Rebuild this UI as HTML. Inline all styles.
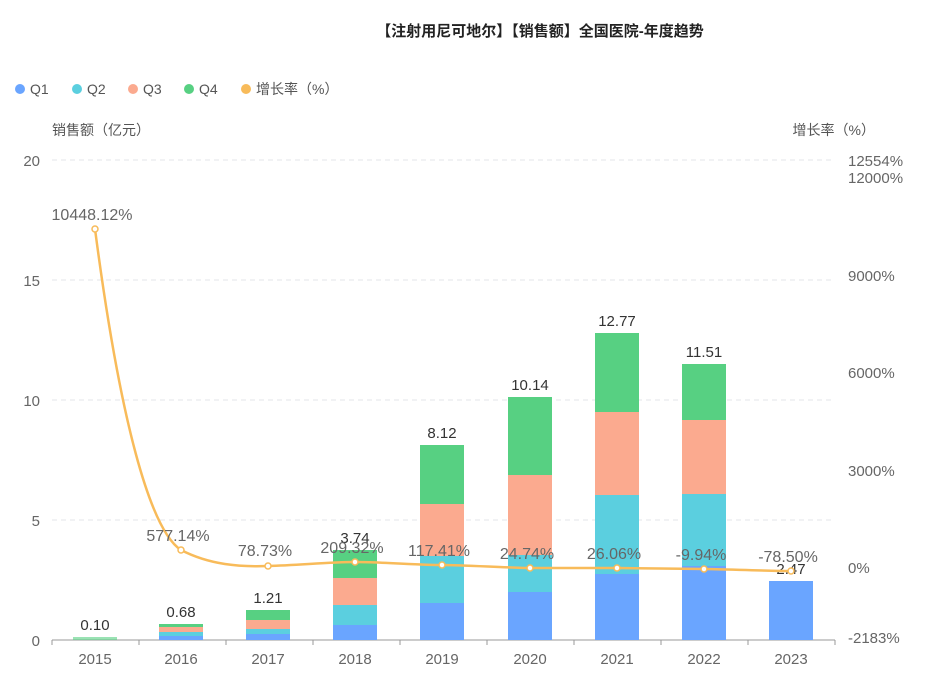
<!DOCTYPE html>
<html><head><meta charset="utf-8"><style>
body{margin:0;background:#fff;}
svg{display:block;font-family:"Liberation Sans","Noto Sans CJK SC",sans-serif;}
</style></head><body>
<svg width="941" height="676" viewBox="0 0 941 676">
<text x="540" y="36" text-anchor="middle" font-size="15" font-weight="bold" fill="#222">【注射用尼可地尔】【销售额】全国医院-年度趋势</text>
<g font-size="14" fill="#555">
<circle cx="20" cy="89" r="5" fill="#6aa5ff"/><text x="30" y="94">Q1</text>
<circle cx="77" cy="89" r="5" fill="#5bcfdf"/><text x="87" y="94">Q2</text>
<circle cx="133" cy="89" r="5" fill="#fbaa8f"/><text x="143" y="94">Q3</text>
<circle cx="189" cy="89" r="5" fill="#57d082"/><text x="199" y="94">Q4</text>
<circle cx="246" cy="89" r="5" fill="#f8bb5a"/><text x="256" y="94">增长率（%）</text>
<text x="52" y="135">销售额（亿元）</text>
<text x="875" y="135" text-anchor="end">增长率（%）</text>
</g>
<g stroke="#e3e6ea" stroke-dasharray="5,4">
<line x1="52" y1="160" x2="835" y2="160"/><line x1="52" y1="280" x2="835" y2="280"/>
<line x1="52" y1="400" x2="835" y2="400"/><line x1="52" y1="520" x2="835" y2="520"/>
</g>
<line x1="52" y1="640" x2="835" y2="640" stroke="#999"/>
<g stroke="#999">
<line x1="52" y1="640" x2="52" y2="645"/><line x1="139" y1="640" x2="139" y2="645"/><line x1="226" y1="640" x2="226" y2="645"/><line x1="313" y1="640" x2="313" y2="645"/><line x1="400" y1="640" x2="400" y2="645"/><line x1="487" y1="640" x2="487" y2="645"/><line x1="574" y1="640" x2="574" y2="645"/><line x1="661" y1="640" x2="661" y2="645"/><line x1="748" y1="640" x2="748" y2="645"/><line x1="835" y1="640" x2="835" y2="645"/>
</g>
<g font-size="15" fill="#666" text-anchor="end">
<text x="40" y="166">20</text><text x="40" y="286">15</text><text x="40" y="406">10</text><text x="40" y="526">5</text><text x="40" y="646">0</text>
</g>
<g font-size="15" fill="#666">
<text x="848" y="166">12554%</text><text x="848" y="183">12000%</text><text x="848" y="281">9000%</text><text x="848" y="378">6000%</text><text x="848" y="476">3000%</text><text x="848" y="573">0%</text><text x="848" y="643">-2183%</text>
</g>
<g font-size="15" fill="#666" text-anchor="middle">
<text x="95" y="664">2015</text><text x="181" y="664">2016</text><text x="268" y="664">2017</text><text x="355" y="664">2018</text><text x="442" y="664">2019</text><text x="530" y="664">2020</text><text x="617" y="664">2021</text><text x="704" y="664">2022</text><text x="791" y="664">2023</text>
</g>
<!-- bars -->
<g>
<rect x="73" y="637" width="44" height="3" fill="#57d082" opacity="0.6"/>
<rect x="159" y="636" width="44" height="4" fill="#6aa5ff"/><rect x="159" y="632" width="44" height="4" fill="#5bcfdf"/><rect x="159" y="627" width="44" height="5" fill="#fbaa8f"/><rect x="159" y="624" width="44" height="3" fill="#57d082"/>
<rect x="246" y="634" width="44" height="6" fill="#6aa5ff"/><rect x="246" y="629" width="44" height="5" fill="#5bcfdf"/><rect x="246" y="620" width="44" height="9" fill="#fbaa8f"/><rect x="246" y="610" width="44" height="10" fill="#57d082"/>
<rect x="333" y="625" width="44" height="15" fill="#6aa5ff"/><rect x="333" y="605" width="44" height="20" fill="#5bcfdf"/><rect x="333" y="578" width="44" height="27" fill="#fbaa8f"/><rect x="333" y="550" width="44" height="28" fill="#57d082"/>
<rect x="420" y="603" width="44" height="37" fill="#6aa5ff"/><rect x="420" y="556" width="44" height="47" fill="#5bcfdf"/><rect x="420" y="504" width="44" height="52" fill="#fbaa8f"/><rect x="420" y="445" width="44" height="59" fill="#57d082"/>
<rect x="508" y="592" width="44" height="48" fill="#6aa5ff"/><rect x="508" y="555" width="44" height="37" fill="#5bcfdf"/><rect x="508" y="475" width="44" height="80" fill="#fbaa8f"/><rect x="508" y="397" width="44" height="78" fill="#57d082"/>
<rect x="595" y="574" width="44" height="66" fill="#6aa5ff"/><rect x="595" y="495" width="44" height="79" fill="#5bcfdf"/><rect x="595" y="412" width="44" height="83" fill="#fbaa8f"/><rect x="595" y="333" width="44" height="79" fill="#57d082"/>
<rect x="682" y="566" width="44" height="74" fill="#6aa5ff"/><rect x="682" y="494" width="44" height="72" fill="#5bcfdf"/><rect x="682" y="420" width="44" height="74" fill="#fbaa8f"/><rect x="682" y="364" width="44" height="56" fill="#57d082"/>
<rect x="769" y="581" width="44" height="59" fill="#6aa5ff"/>
</g>
<g font-size="15" fill="#333" text-anchor="middle">
<text x="95" y="630">0.10</text><text x="181" y="617">0.68</text><text x="268" y="603">1.21</text><text x="355" y="543">3.74</text><text x="442" y="438">8.12</text><text x="530" y="390">10.14</text><text x="617" y="326">12.77</text><text x="704" y="357">11.51</text><text x="791" y="574">2.47</text>
</g>
<path d="M95,229 C120,420 150,530 181,550 C210,565 240,567 268,566 C300,565 330,562 355,562 S420,565 442,565 S510,568 530,568 S600,568 617,568 S690,569 704,569 S770,571 791,571" fill="none" stroke="#f8bb5a" stroke-width="2.5"/>
<g fill="#fff" stroke="#f8bb5a" stroke-width="1.5">
<circle cx="95" cy="229" r="3"/><circle cx="181" cy="550" r="3"/><circle cx="268" cy="566" r="3"/><circle cx="355" cy="562" r="3"/><circle cx="442" cy="565" r="3"/><circle cx="530" cy="568" r="3"/><circle cx="617" cy="568" r="3"/><circle cx="704" cy="569" r="3"/><circle cx="791" cy="571" r="3"/>
</g>
<g font-size="16" fill="#666" text-anchor="middle">
<text x="92" y="220">10448.12%</text><text x="178" y="541">577.14%</text><text x="265" y="556">78.73%</text><text x="352" y="553">209.32%</text><text x="439" y="556">117.41%</text><text x="527" y="559">24.74%</text><text x="614" y="559">26.06%</text><text x="701" y="560">-9.94%</text><text x="788" y="562">-78.50%</text>
</g>
</svg>
</body></html>
